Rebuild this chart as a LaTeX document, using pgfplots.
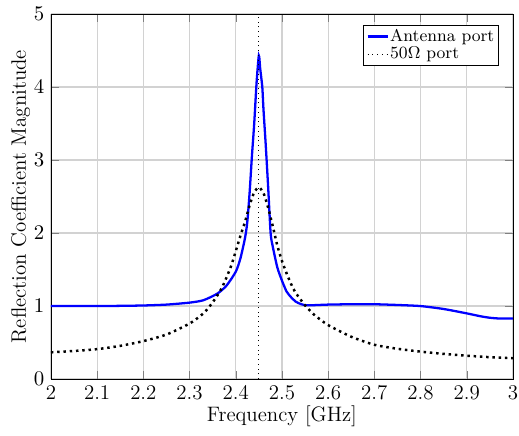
\documentclass[border=0pt]{standalone}
\usepackage{pgfplots}
\pgfplotsset{compat=1.18}
\begin{document}
\begin{tikzpicture}
\begin{axis}[
  width=243pt, height=192pt, scale only axis,
  xmin=2, xmax=3, ymin=0, ymax=5,
  xtick={2,2.1,...,3.01},
  xticklabels={2,2.1,2.2,2.3,2.4,2.5,2.6,2.7,2.8,2.9,3},
  ytick={0,1,2,3,4,5},
  tick label style={font=\fontsize{11}{13}\selectfont},
  label style={font=\fontsize{11}{13}\selectfont},
  ylabel shift=-5pt,
  xlabel shift=-4pt,
  grid=major,
  major grid style={gray!35, line width=0.6pt},
  xlabel={Frequency [GHz]},
  ylabel={Reflection Coefficient Magnitude},
  legend pos=north east,
  legend cell align=left,
  legend style={font=\fontsize{9}{10}\selectfont, inner xsep=1.5pt, inner ysep=1pt,
                nodes={inner sep=0.8pt}, row sep=0pt},
]
\addplot[blue, line width=1.2pt, smooth, tension=0.4,
  legend image code/.code={\draw[blue, line width=1.2pt] (0cm,0cm) -- (0.37cm,0cm);}] coordinates {
(2.00,1.000)(2.05,1.000)(2.10,1.000)(2.15,1.003)(2.20,1.008)(2.25,1.020)
(2.30,1.047)(2.33,1.080)(2.36,1.170)(2.38,1.280)(2.40,1.470)(2.41,1.650)
(2.42,1.930)(2.425,2.150)(2.43,2.550)(2.435,3.050)(2.44,3.500)(2.445,4.050)
(2.45,4.430)(2.453,4.250)(2.4575,4.000)(2.46,3.700)(2.465,3.200)(2.47,2.650)
(2.4755,2.000)(2.48,1.820)(2.49,1.530)(2.50,1.350)(2.51,1.200)(2.52,1.120)
(2.53,1.060)(2.54,1.030)(2.55,1.012)(2.56,1.010)(2.60,1.020)(2.65,1.025)
(2.70,1.025)(2.75,1.015)(2.80,1.000)(2.85,0.960)(2.90,0.900)(2.93,0.860)
(2.95,0.840)(2.97,0.830)(3.00,0.830)
};
\addlegendentry{Antenna port}
\addplot[black, dotted, line width=1.3pt, smooth, tension=0.4,
  legend image code/.code={\draw[black, dotted, line width=0.5pt] (0cm,0cm) -- (0.37cm,0cm);}] coordinates {
(2.00,0.366)(2.05,0.385)(2.10,0.410)(2.15,0.455)(2.20,0.520)(2.25,0.610)
(2.30,0.760)(2.33,0.900)(2.35,1.050)(2.37,1.250)(2.39,1.550)(2.41,1.960)
(2.42,2.150)(2.43,2.380)(2.44,2.560)(2.45,2.625)(2.46,2.550)(2.47,2.350)
(2.48,2.100)(2.49,1.830)(2.50,1.620)(2.51,1.450)(2.52,1.300)(2.53,1.180)
(2.55,1.010)(2.57,0.880)(2.60,0.740)(2.65,0.580)(2.70,0.470)(2.75,0.415)
(2.80,0.376)(2.85,0.345)(2.90,0.320)(2.95,0.300)(3.00,0.285)
};
\addlegendentry{50$\Omega$ port}
\addplot[black, dotted, line width=0.5pt, forget plot] coordinates {(2.45,0)(2.45,5)};
\end{axis}
\pgfresetboundingbox
\path ([xshift=-26.8pt,yshift=-29.5pt]current axis.south west) rectangle ([xshift=3.2pt,yshift=7.4pt]current axis.north east);
\end{tikzpicture}
\end{document}
